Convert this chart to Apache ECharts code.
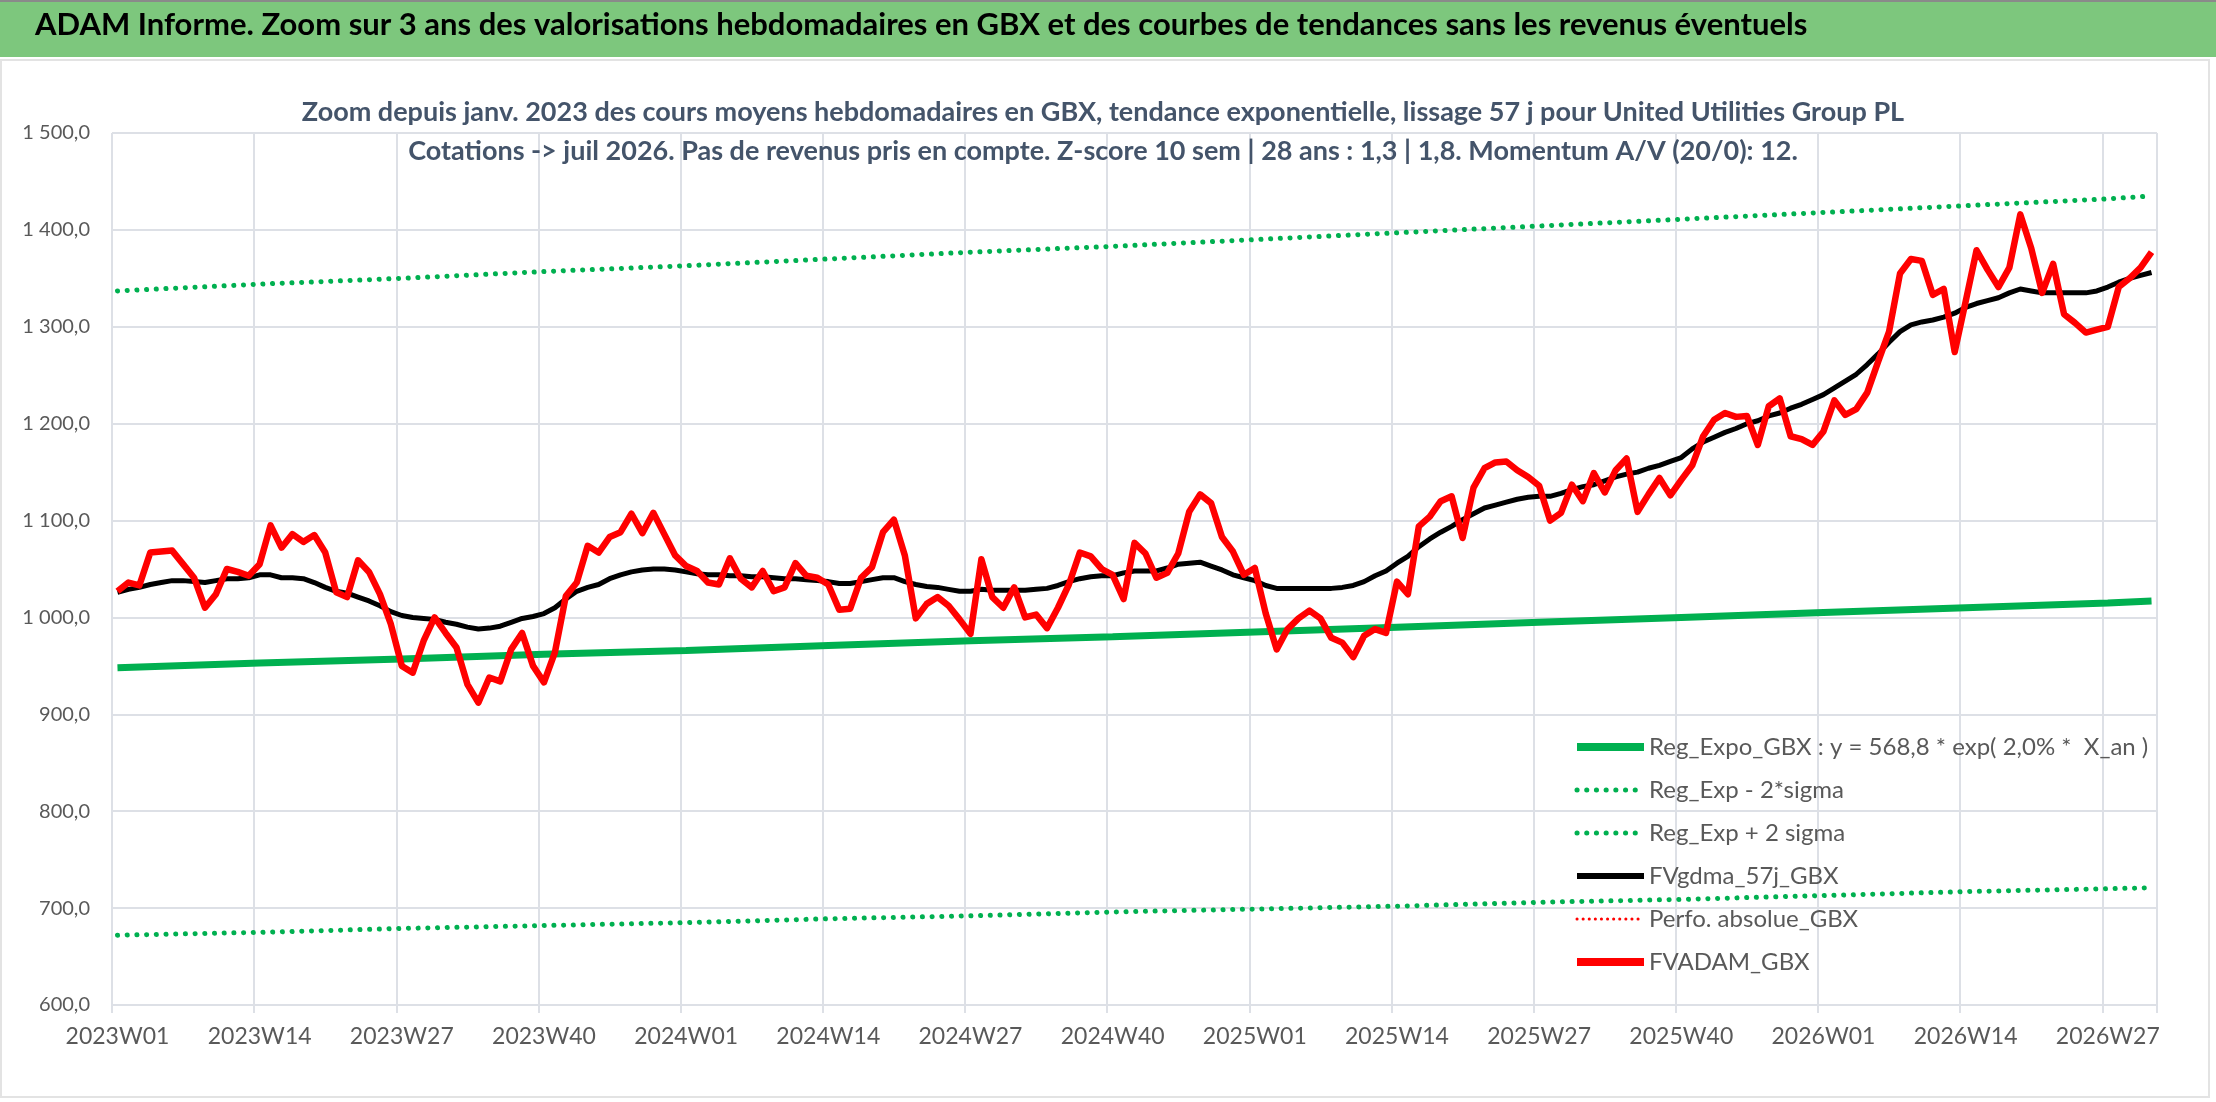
<!DOCTYPE html>
<html>
<head>
    <meta charset="UTF-8">
    <title>ADAM Informe - United Utilities Group PL</title>
    <script src="https://cdn.jsdelivr.net/npm/echarts@6/dist/echarts.min.js"></script>
    <style>
        html, body { margin: 0; padding: 0; background: #fff; }
        #chart { width: 2216px; height: 1102px; }
    </style>
</head>
<body>
<div id="chart"></div>
<script type="text/javascript">
    // semaines 2023W01 -> 2026W31 (52 semaines par an sur l'axe)
    var weeks = [];
    [2023, 2024, 2025, 2026].forEach(function (y) {
        for (var w = 1; w <= 52; w++) {
            weeks.push(y + 'W' + (w < 10 ? '0' + w : w));
        }
    });
    weeks = weeks.slice(0, 187);

    // cours hebdomadaires (FVADAM_GBX)
    var fvadam = [
        1027, 1036, 1033, 1067, 1068, 1069, 1055, 1041, 1010, 1024, 1050, 1047, 1043,
        1055, 1095, 1072, 1086, 1078, 1085, 1067, 1026, 1021, 1059, 1047, 1024, 993,
        950, 943, 976, 1000, 984, 969, 931, 912, 938, 934, 967, 984, 950,
        933, 964, 1022, 1036, 1074, 1067, 1083, 1088, 1107, 1087, 1108, 1086, 1064,
        1053, 1048, 1036, 1034, 1061, 1040, 1031, 1048, 1027, 1031, 1056, 1043, 1041,
        1034, 1008, 1009, 1041, 1052, 1088, 1101, 1064, 999, 1014, 1021, 1012, 998,
        983, 1060, 1021, 1010, 1031, 1000, 1003, 989, 1010, 1034, 1067, 1063, 1050,
        1044, 1019, 1077, 1066, 1041, 1046, 1066, 1109, 1127, 1118, 1083, 1068, 1044,
        1051, 1004, 967, 988, 999, 1007, 999, 979, 974, 959, 981, 988, 984,
        1037, 1024, 1094, 1104, 1120, 1125, 1082, 1134, 1154, 1160, 1161, 1152, 1145,
        1136, 1100, 1108, 1137, 1120, 1149, 1129, 1152, 1164, 1109, 1127, 1144, 1126,
        1142, 1157, 1187, 1204, 1211, 1207, 1208, 1178, 1218, 1226, 1187, 1184, 1178,
        1192, 1224, 1209, 1215, 1232, 1264, 1295, 1355, 1370, 1368, 1333, 1339, 1274,
        1326, 1379, 1359, 1341, 1361, 1416, 1381, 1335, 1365, 1313, 1304, 1294, 1297,
        1300, 1341, 1350, 1361, 1377
    ];

    // moyenne mobile 57 j (FVgdma_57j_GBX)
    var fvgdma = [
        1026, 1029, 1031, 1034, 1036, 1038, 1038, 1037, 1036, 1038, 1040, 1040, 1041,
        1044, 1044, 1041, 1041, 1040, 1036, 1031, 1027, 1025, 1021, 1017, 1012, 1006,
        1002, 1000, 999, 998, 995, 993, 990, 988, 989, 991, 995, 999, 1001,
        1004, 1010, 1019, 1027, 1031, 1034, 1040, 1044, 1047, 1049, 1050, 1050, 1049,
        1047, 1045, 1044, 1044, 1043, 1043, 1042, 1042, 1041, 1040, 1040, 1039, 1038,
        1037, 1035, 1035, 1037, 1039, 1041, 1041, 1037, 1034, 1032, 1031, 1029, 1027,
        1027, 1029, 1028, 1028, 1028, 1028, 1029, 1030, 1033, 1037, 1040, 1042, 1043,
        1043, 1046, 1048, 1048, 1048, 1051, 1055, 1056, 1057, 1053, 1049, 1044, 1041,
        1038, 1033, 1030, 1030, 1030, 1030, 1030, 1030, 1031, 1033, 1037, 1043, 1048,
        1056, 1063, 1073, 1081, 1088, 1094, 1101, 1107, 1113, 1116, 1119, 1122, 1124,
        1125, 1125, 1128, 1132, 1135, 1137, 1141, 1145, 1148, 1150, 1154, 1157, 1161,
        1165, 1174, 1181, 1186, 1191, 1195, 1200, 1203, 1208, 1211, 1216, 1220, 1225,
        1230, 1237, 1244, 1251, 1261, 1272, 1284, 1295, 1302, 1305, 1307, 1310, 1314,
        1320, 1324, 1327, 1330, 1335, 1339, 1337, 1335, 1335, 1335, 1335, 1335, 1337,
        1341, 1346, 1350, 1353, 1356
    ];

    // droites de tendance lues aux semaines repères
    var trendIdx = [0, 13, 26, 39, 52, 65, 78, 91, 104, 117, 130, 143, 156, 169, 182, 186];
    var regExpo = [948, 953, 957, 962, 966, 971, 976, 980, 985, 990, 995, 1000, 1005, 1010, 1015, 1017];
    var regLow = [672, 675, 679, 682, 685, 689, 692, 696, 699, 702, 706, 709, 713, 717, 720, 721];
    var regHigh = [1337, 1344, 1350, 1357, 1363, 1370, 1377, 1383, 1390, 1397, 1404, 1411, 1418, 1425, 1432, 1435];

    function pairs(vals) {
        return trendIdx.map(function (i, k) { return [i, vals[k]]; });
    }

    function fmtFr(v) {
        var s = v.toFixed(1).replace('.', ',');
        var p = s.split(',');
        p[0] = p[0].replace(/\B(?=(\d{3})+(?!\d))/g, ' ');
        return p[0] + ',' + p[1];
    }

    var FONT = 'Lato, "Open Sans", sans-serif';
    var GRID_COLOR = '#DDE0E6';
    var DOTS = [0.1, 9.6];

    var myChart = echarts.init(document.getElementById('chart'));

    var option = {
        animation: false,
        backgroundColor: '#ffffff',
        textStyle: { fontFamily: FONT },
        graphic: [
            { type: 'rect', shape: { x: 0, y: 0, width: 2216, height: 57 }, style: { fill: '#7DC77D' }, z: 0 },
            { type: 'rect', shape: { x: 0, y: 0, width: 2216, height: 2 }, style: { fill: '#8A8A8A' }, z: 1 },
            { type: 'rect', shape: { x: 1, y: 60, width: 2208, height: 1037 }, style: { fill: 'none', stroke: '#E3E3E3', lineWidth: 2 }, z: 0 },
            {
                type: 'text', left: 35, top: 9, z: 2,
                style: {
                    text: 'ADAM Informe. Zoom sur 3 ans des valorisations hebdomadaires en GBX et des courbes de tendances sans les revenus éventuels',
                    fill: '#000000', font: 'bold 31px ' + FONT
                }
            },
            {
                type: 'text', x: 1103, y: 112, z: 2,
                style: {
                    text: 'Zoom depuis janv. 2023 des cours moyens hebdomadaires en GBX, tendance exponentielle, lissage 57 j pour United Utilities Group PL',
                    fill: '#44546A', font: 'bold 27px ' + FONT, align: 'center', verticalAlign: 'middle'
                }
            },
            {
                type: 'text', x: 1103, y: 151, z: 2,
                style: {
                    text: 'Cotations -> juil 2026. Pas de revenus pris en compte. Z-score 10 sem | 28 ans : 1,3 | 1,8. Momentum A/V (20/0): 12.',
                    fill: '#44546A', font: 'bold 27px ' + FONT, align: 'center', verticalAlign: 'middle'
                }
            }
        ],
        legend: {
            orient: 'vertical',
            left: 1568,
            top: 727,
            itemWidth: 67,
            itemHeight: 14,
            itemGap: 13,
            itemStyle: { opacity: 0 },
            textStyle: { color: '#595959', fontSize: 24, lineHeight: 30, fontFamily: FONT },
            data: [
                { name: 'Reg_Expo_GBX : y = 568,8 * exp( 2,0% *  X_an )', lineStyle: { width: 8 } },
                { name: 'Reg_Exp - 2*sigma', lineStyle: { width: 5, type: DOTS, cap: 'round' } },
                { name: 'Reg_Exp + 2 sigma', lineStyle: { width: 5, type: DOTS, cap: 'round' } },
                { name: 'FVgdma_57j_GBX', lineStyle: { width: 6 } },
                { name: 'Perfo. absolue_GBX', lineStyle: { width: 3, type: [0.1, 6], cap: 'round' } },
                { name: 'FVADAM_GBX', lineStyle: { width: 8 } }
            ]
        },
        grid: { left: 112, right: 59, top: 133, bottom: 97, containLabel: false },
        xAxis: {
            type: 'category',
            data: weeks,
            boundaryGap: true,
            axisLine: { show: true, lineStyle: { color: GRID_COLOR, width: 2 } },
            axisTick: { show: true, interval: 12, length: 8, lineStyle: { color: GRID_COLOR, width: 2 } },
            axisLabel: { interval: 12, color: '#595959', fontSize: 23, margin: 20, fontFamily: FONT },
            splitLine: { show: true, interval: 12, lineStyle: { color: GRID_COLOR, width: 2 } }
        },
        yAxis: {
            type: 'value',
            min: 600,
            max: 1500,
            interval: 100,
            axisLine: { show: false },
            axisTick: { show: false },
            axisLabel: { color: '#595959', fontSize: 20, margin: 22, formatter: fmtFr, fontFamily: FONT },
            splitLine: { show: true, lineStyle: { color: GRID_COLOR, width: 2 } }
        },
        series: [
            {
                name: 'Reg_Expo_GBX : y = 568,8 * exp( 2,0% *  X_an )',
                type: 'line', data: pairs(regExpo), symbol: 'none', z: 2,
                lineStyle: { color: '#00B050', width: 7 }, itemStyle: { color: '#00B050' }
            },
            {
                name: 'Reg_Exp - 2*sigma',
                type: 'line', data: pairs(regLow), symbol: 'none', z: 2,
                lineStyle: { color: '#00B050', width: 5, type: DOTS, cap: 'round' }, itemStyle: { color: '#00B050' }
            },
            {
                name: 'Reg_Exp + 2 sigma',
                type: 'line', data: pairs(regHigh), symbol: 'none', z: 2,
                lineStyle: { color: '#00B050', width: 5, type: DOTS, cap: 'round' }, itemStyle: { color: '#00B050' }
            },
            {
                name: 'FVgdma_57j_GBX',
                type: 'line', data: fvgdma, symbol: 'none', z: 3,
                lineStyle: { color: '#000000', width: 5, join: 'round' }, itemStyle: { color: '#000000' }
            },
            {
                name: 'Perfo. absolue_GBX',
                type: 'line', data: [], symbol: 'none', z: 3,
                lineStyle: { color: '#FF0000', width: 3, type: [0.1, 6], cap: 'round' }, itemStyle: { color: '#FF0000' }
            },
            {
                name: 'FVADAM_GBX',
                type: 'line', data: fvadam, symbol: 'none', z: 4,
                lineStyle: { color: '#FF0000', width: 6.5, join: 'round' }, itemStyle: { color: '#FF0000' }
            }
        ]
    };
    myChart.setOption(option);
</script>
</body>
</html>
